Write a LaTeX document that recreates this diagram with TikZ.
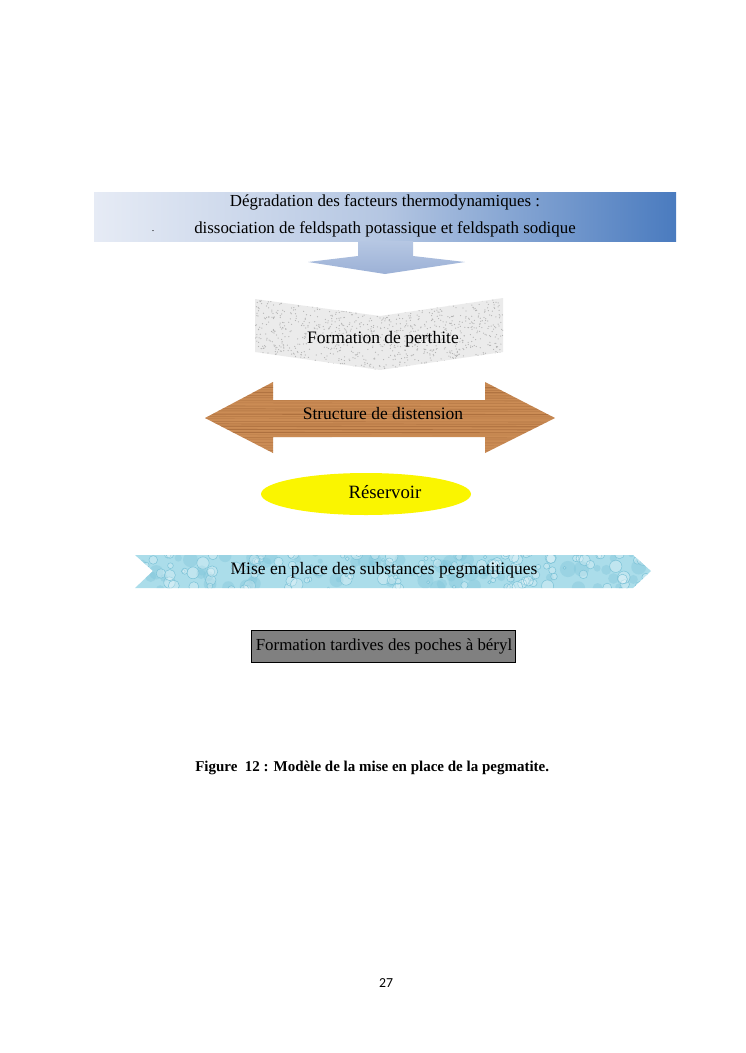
\documentclass[tikz,border=0pt]{standalone}
\usepackage{fontspec}
\setmainfont{Liberation Serif}
\newfontfamily\pagefont{Carlito}
\usetikzlibrary{shapes.geometric}
\definecolor{bannerL}{HTML}{E6EBF5}
\definecolor{bannerM}{HTML}{B4C6E2}
\definecolor{bannerR}{HTML}{4A7BBF}
\definecolor{arrowT}{HTML}{B6C7E3}
\definecolor{arrowB}{HTML}{9CB1D6}
\definecolor{perthite}{HTML}{EBEBEB}
\definecolor{speckc}{HTML}{B4B4B4}
\definecolor{woodL}{HTML}{CB8C55}
\definecolor{woodD}{HTML}{9A5E30}
\definecolor{ribbonc}{HTML}{ABDDEA}
\definecolor{bubblec}{HTML}{7CC3D8}
\definecolor{boxgray}{HTML}{808080}
\definecolor{resyellow}{HTML}{FAF500}
\begin{document}
\begin{tikzpicture}[x=0.8pt,y=-0.8pt,
  lbl/.style={inner sep=0pt, font=\fontsize{14}{16.8}\selectfont},
  bannertext/.style={inner sep=0pt, font=\fontsize{13.5}{16}\selectfont},
  speck/.style={fill=speckc},
  grain/.style={draw=woodD},
  bubble/.style={draw=bubblec, line width=0.4pt, fill=white, fill opacity=0.25},
  darkbubble/.style={fill=bubblec, fill opacity=0.35},
]
\useasboundingbox (0,0) rectangle (745,1053);
\pgfmathsetseed{42}
% banner
\shade[left color=bannerL, right color=bannerR, middle color=bannerM] (94,192) rectangle (676,241);
% down arrow
\shade[top color=arrowT, bottom color=arrowB] (358,241) -- (358,256) -- (308,262) -- (385,274) -- (465,262) -- (413,256) -- (413,241) -- cycle;
% perthite chevron
\fill[perthite] (255,299) -- (380,316) -- (503,298) -- (503,352) -- (380,370) -- (255,352) -- cycle;
\begin{scope}
\clip (255,299) -- (380,316) -- (503,298) -- (503,352) -- (380,370) -- (255,352) -- cycle;
\foreach \i in {1,...,1100} {
  \pgfmathsetmacro\px{255+248*rnd}
  \pgfmathsetmacro\py{298+72*rnd}
  \fill[speck] (\px,\py) circle (0.5pt);
}
\end{scope}
% wood double arrow
\fill[woodL] (205,418) -- (273,382) -- (273,400) -- (485,400) -- (485,382) -- (555,418) -- (485,453) -- (485,437) -- (273,437) -- (273,453) -- cycle;
\begin{scope}
\clip (205,418) -- (273,382) -- (273,400) -- (485,400) -- (485,382) -- (555,418) -- (485,453) -- (485,437) -- (273,437) -- (273,453) -- cycle;
\foreach \i in {0,...,27} {
  \pgfmathsetmacro\yy{382+\i*2.6+rnd}
  \pgfmathsetmacro\op{0.2+0.4*rnd}
  \pgfmathsetmacro\lw{0.3+0.8*rnd}
  \draw[grain, opacity=\op, line width=\lw pt] (205,\yy) -- (555,\yy+0.5);
}
\end{scope}
% reservoir ellipse
\fill[resyellow] (366,494) ellipse [x radius=84pt, y radius=16.8pt];
% ribbon
\fill[ribbonc] (135,555) -- (633,555) -- (651,571) -- (633,588) -- (135,588) -- (153,571) -- cycle;
\begin{scope}
\clip (135,555) -- (633,555) -- (651,571) -- (633,588) -- (135,588) -- (153,571) -- cycle;
\foreach \i in {1,...,70} {
  \pgfmathsetmacro\px{135+516*rnd}
  \pgfmathsetmacro\py{553+37*rnd}
  \pgfmathsetmacro\rr{2+5*rnd}
  \fill[darkbubble] (\px,\py) circle (\rr pt);
}
\foreach \i in {1,...,140} {
  \pgfmathsetmacro\px{135+516*rnd}
  \pgfmathsetmacro\py{553+37*rnd}
  \pgfmathsetmacro\rr{1+4*rnd}
  \draw[bubble] (\px,\py) circle (\rr pt);
}
\end{scope}
% grey box
\draw[fill=boxgray, line width=0.7pt] (251,630) rectangle (515,662);
% texts
\node[bannertext] (t1) at (385,202) {Dégradation des facteurs thermodynamiques :};
\node[bannertext] (t2) at (385,229) {dissociation de feldspath potassique et feldspath sodique};
\node[inner sep=0pt, font=\fontsize{8}{9}\selectfont] (dot) at (153,231) {.};
\node[lbl] (perth) at (383,339) {Formation de perthite};
\node[lbl] (dist) at (383,414) {Structure de distension};
\node[inner sep=0pt, font=\fontsize{15}{18}\selectfont] (res) at (385,492) {Réservoir};
\node[lbl] (mise) at (384,570) {Mise en place des substances pegmatitiques};
\node[inner sep=0pt, font=\fontsize{13.5}{16}\selectfont] (beryl) at (384,646) {Formation tardives des poches à béryl};
\node[inner sep=0pt, anchor=west, font=\bfseries\fontsize{12}{14}\selectfont] (cap) at (195,768) {Figure~~12 : Modèle de la mise en place de la pegmatite.};
\node[inner sep=0pt, font=\pagefont\fontsize{11}{13}\selectfont] (pg) at (386,983) {27};
\end{tikzpicture}
\end{document}
